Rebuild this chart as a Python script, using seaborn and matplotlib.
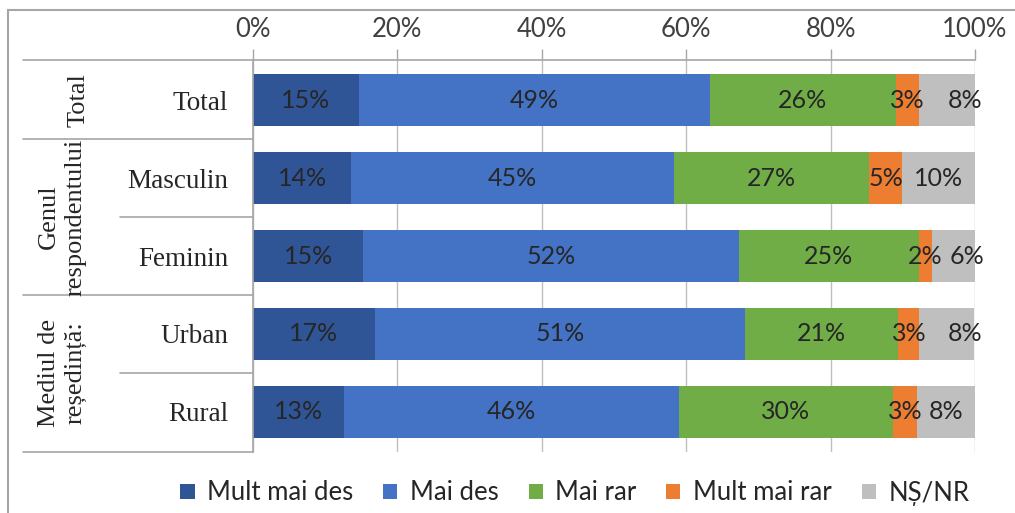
import matplotlib
matplotlib.use("Agg")
import matplotlib.pyplot as plt
import matplotlib.transforms as mtransforms
from matplotlib.patches import Patch, Rectangle
from matplotlib.lines import Line2D
import numpy as np
import pandas as pd
import seaborn as sns

# ---- data ----
categories = ["Total", "Masculin", "Feminin", "Urban", "Rural"]
series_names = ["Mult mai des", "Mai des", "Mai rar", "Mult mai rar", "NȘ/NR"]
mult_mai_des = [14.7, 13.6, 15.3, 16.9, 12.6]
mai_des = [48.6, 44.7, 52.0, 51.3, 46.4]
mai_rar = [25.7, 27.0, 24.9, 21.2, 29.6]
mult_mai_rar = [3.2, 4.6, 1.8, 2.9, 3.4]
ns_nr = [7.8, 10.1, 6.0, 7.6, 8.0]
group_labels = ["Total", "Genul\nrespondentului", "Mediul de\nreședință:"]
group_rows = [(0, 0), (1, 2), (3, 4)]
tick_values = [0, 20, 40, 60, 80, 100]
tick_labels = ["0%", "20%", "40%", "60%", "80%", "100%"]
colors = ["#2F5597", "#4472C4", "#70AD47", "#ED7D31", "#BFBFBF"]

series_values = [mult_mai_des, mai_des, mai_rar, mult_mai_rar, ns_nr]

sns.set_theme(style="white")
plt.rcParams["font.family"] = ["Lato", "DejaVu Sans"]

W, H = 1015, 513
fig = plt.figure(figsize=(W / 100, H / 100), dpi=100)
ax = fig.add_axes([253 / W, 1 - 452 / H, (975 - 253) / W, (452 - 60) / H])

# manual nudges (pixels) of some NȘ/NR labels, as in the original
label_shift_px = {4: [18, 0, 14, 18, 0]}

left = np.zeros(len(categories))
for k, (name, vals, col) in enumerate(zip(series_names, series_values, colors)):
    d = pd.DataFrame({"cat": categories, "val": vals})
    sns.barplot(data=d, y="cat", x="val", left=left, color=col, width=0.667,
                ax=ax, orient="h", saturation=1, edgecolor="none", linewidth=0,
                order=categories, label=name)
    cont = ax.containers[-1]
    labels = [f"{round(v):.0f}%" for v in vals]
    texts = ax.bar_label(cont, labels=labels, label_type="center", fontsize=18,
                         color="#262626")
    if k in label_shift_px:
        for t, dx in zip(texts, label_shift_px[k]):
            x0, y0 = t.xyann
            t.xyann = (x0 + dx * 0.72, y0)
    left = left + np.array(vals)

ax.set_xlim(0, 100)
ax.set_ylim(4.513, -0.513)
ax.xaxis.tick_top()
ax.set_xticks(tick_values)
ax.set_xticklabels(tick_labels, fontsize=18.5, color="#404040")
ax.tick_params(axis="x", which="both", length=8, width=1, color="#A6A6A6",
               direction="out", pad=5, top=True, bottom=False)
ax.grid(axis="x", color="#BFBFBF", linewidth=1)
ax.grid(axis="y", visible=False)
ax.set_axisbelow(True)
ax.set_xlabel("")
ax.set_ylabel("")
ax.set_yticks(range(len(categories)))
ax.set_yticklabels(categories, fontsize=19.5, family=["Liberation Serif"],
                   color="#262626")
ax.tick_params(axis="y", length=0, pad=18)
for s in ["right", "bottom"]:
    ax.spines[s].set_visible(False)
for s in ["left", "top"]:
    ax.spines[s].set_visible(True)
    ax.spines[s].set_color("#A6A6A6")
    ax.spines[s].set_linewidth(1.2)
if ax.get_legend() is not None:
    ax.get_legend().remove()

# left table lines (x in figure fraction, y in data)
trans = mtransforms.blended_transform_factory(fig.transFigure, ax.transData)
long_x0, short_x0, x1 = 23 / W, 120 / W, 253 / W
for y, x0 in [(-0.513, long_x0), (0.5, long_x0), (1.5, short_x0),
              (2.5, long_x0), (3.5, short_x0), (4.513, long_x0)]:
    ax.add_line(Line2D([x0, x1], [y, y], transform=trans, color="#A6A6A6",
                       linewidth=1.2, clip_on=False))

# group labels (rotated)
for lab, (r0, r1) in zip(group_labels, group_rows):
    yc = (r0 + r1) / 2
    xc = 79 / W if "\n" not in lab else 62 / W
    ax.text(xc, yc, lab, transform=trans, rotation=90, ha="center", va="center",
            multialignment="center", fontsize=19, family=["Liberation Serif"],
            color="#262626", linespacing=1.25)

# legend
handles = [Patch(facecolor=c, edgecolor="none") for c in colors]
fig.legend(handles, series_names, loc="center", ncol=5,
           bbox_to_anchor=(575 / W, 1 - 493 / H), frameon=False,
           fontsize=18.5, handlelength=0.55, handleheight=0.55, handletextpad=0.5,
           columnspacing=1.15, labelcolor="#262626", borderpad=0)

# outer border (left and top visible)
fig.add_artist(Rectangle((8 / W, -0.1), 1.2, 1 - 10 / H + 0.1,
                         transform=fig.transFigure, fill=False,
                         edgecolor="#A6A6A6", linewidth=1.5))

fig.savefig("out.png", dpi=100, facecolor="white")
